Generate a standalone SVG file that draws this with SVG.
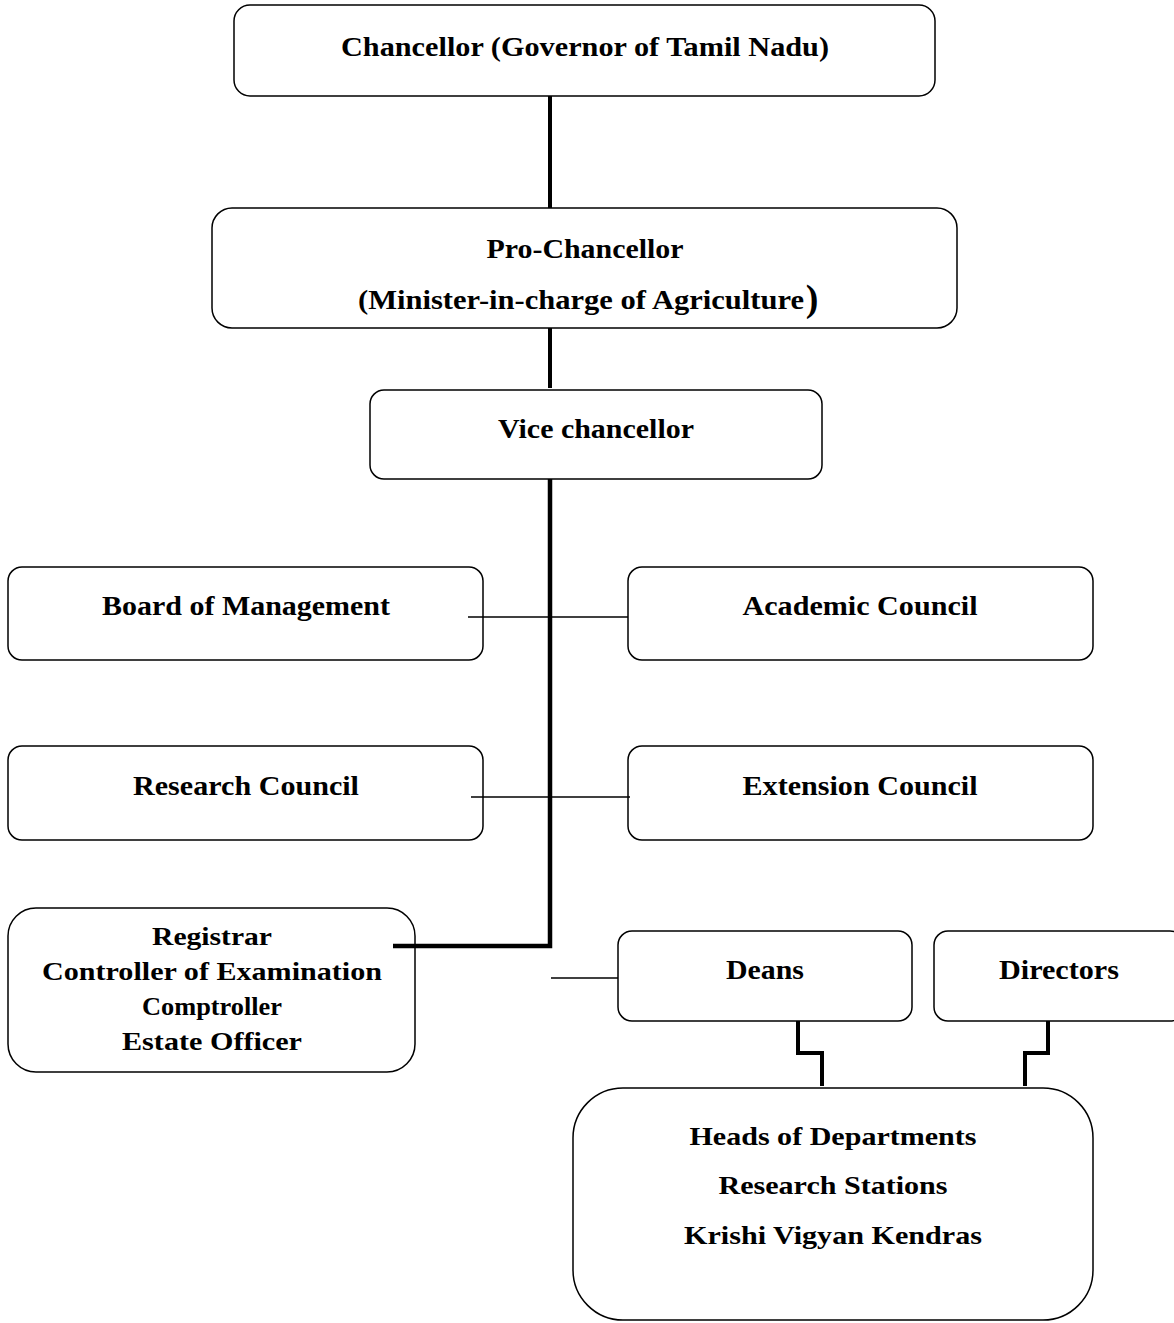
<svg xmlns="http://www.w3.org/2000/svg" width="1174" height="1323" viewBox="0 0 1174 1323">
<style>
.box{fill:#fff;stroke:#000;stroke-width:1.5}
.t{font-family:'Liberation Serif','Times New Roman',serif;font-weight:700;fill:#000;text-anchor:middle}
.c{fill:none;stroke:#000}
</style>
<rect width="1174" height="1323" fill="#fff"/>
<g id="chancellor">
<rect class="box" x="234" y="5" width="701" height="91" rx="16"/>
<text class="t" x="585" y="56" font-size="27" textLength="488" lengthAdjust="spacingAndGlyphs">Chancellor (Governor of Tamil Nadu)</text>
</g>
<g id="pro-chancellor">
<rect class="box" x="212" y="208" width="745" height="120" rx="20"/>
<text class="t" x="585" y="258" font-size="27" textLength="197" lengthAdjust="spacingAndGlyphs">Pro-Chancellor</text>
<text class="t" x="581" y="309" font-size="27" textLength="446" lengthAdjust="spacingAndGlyphs">(Minister-in-charge of Agriculture</text>
<text class="t" x="812" y="311" font-size="38">)</text>
</g>
<g id="vice-chancellor">
<rect class="box" x="370" y="390" width="452" height="89" rx="14"/>
<text class="t" x="596" y="438" font-size="27" textLength="196" lengthAdjust="spacingAndGlyphs">Vice chancellor</text>
</g>
<g id="board">
<rect class="box" x="8" y="567" width="475" height="93" rx="14"/>
<text class="t" x="246" y="615" font-size="27" textLength="288" lengthAdjust="spacingAndGlyphs">Board of Management</text>
</g>
<g id="academic">
<rect class="box" x="628" y="567" width="465" height="93" rx="14"/>
<text class="t" x="860" y="615" font-size="27" textLength="235" lengthAdjust="spacingAndGlyphs">Academic Council</text>
</g>
<g id="research">
<rect class="box" x="8" y="746" width="475" height="94" rx="14"/>
<text class="t" x="246" y="795" font-size="27" textLength="226" lengthAdjust="spacingAndGlyphs">Research Council</text>
</g>
<g id="extension">
<rect class="box" x="628" y="746" width="465" height="94" rx="14"/>
<text class="t" x="860" y="795" font-size="27" textLength="235" lengthAdjust="spacingAndGlyphs">Extension Council</text>
</g>
<g id="registrar">
<rect class="box" x="8" y="908" width="407" height="164" rx="28"/>
<text class="t" x="212" y="945" font-size="25" textLength="120" lengthAdjust="spacingAndGlyphs">Registrar</text>
<text class="t" x="212" y="980" font-size="25" textLength="340" lengthAdjust="spacingAndGlyphs">Controller of Examination</text>
<text class="t" x="212" y="1015" font-size="25" textLength="140" lengthAdjust="spacingAndGlyphs">Comptroller</text>
<text class="t" x="212" y="1050" font-size="25" textLength="180" lengthAdjust="spacingAndGlyphs">Estate Officer</text>
</g>
<g id="deans">
<rect class="box" x="618" y="931" width="294" height="90" rx="14"/>
<text class="t" x="765" y="979" font-size="27" textLength="78" lengthAdjust="spacingAndGlyphs">Deans</text>
</g>
<g id="directors">
<rect class="box" x="934" y="931" width="250" height="90" rx="14"/>
<text class="t" x="1059" y="979" font-size="27" textLength="120" lengthAdjust="spacingAndGlyphs">Directors</text>
</g>
<g id="heads">
<rect class="box" x="573" y="1088" width="520" height="232" rx="50"/>
<text class="t" x="833" y="1145" font-size="26" textLength="287" lengthAdjust="spacingAndGlyphs">Heads of Departments</text>
<text class="t" x="833" y="1194" font-size="26" textLength="229" lengthAdjust="spacingAndGlyphs">Research Stations</text>
<text class="t" x="833" y="1244" font-size="26" textLength="298" lengthAdjust="spacingAndGlyphs">Krishi Vigyan Kendras</text>
</g>
<g id="connectors">
<line class="c" x1="550" y1="96" x2="550" y2="208" stroke-width="4"/>
<line class="c" x1="550" y1="328" x2="550" y2="388" stroke-width="4"/>
<polyline class="c" points="550,479 550,946 393,946" stroke-width="4.5"/>
<line class="c" x1="468" y1="617" x2="628" y2="617" stroke-width="1.5"/>
<line class="c" x1="471" y1="797" x2="630" y2="797" stroke-width="1.5"/>
<line class="c" x1="551" y1="978" x2="618" y2="978" stroke-width="1.5"/>
<polyline class="c" points="798,1021 798,1053 822,1053 822,1086" stroke-width="4"/>
<polyline class="c" points="1048,1021 1048,1053 1025,1053 1025,1086" stroke-width="4"/>
</g>
</svg>
